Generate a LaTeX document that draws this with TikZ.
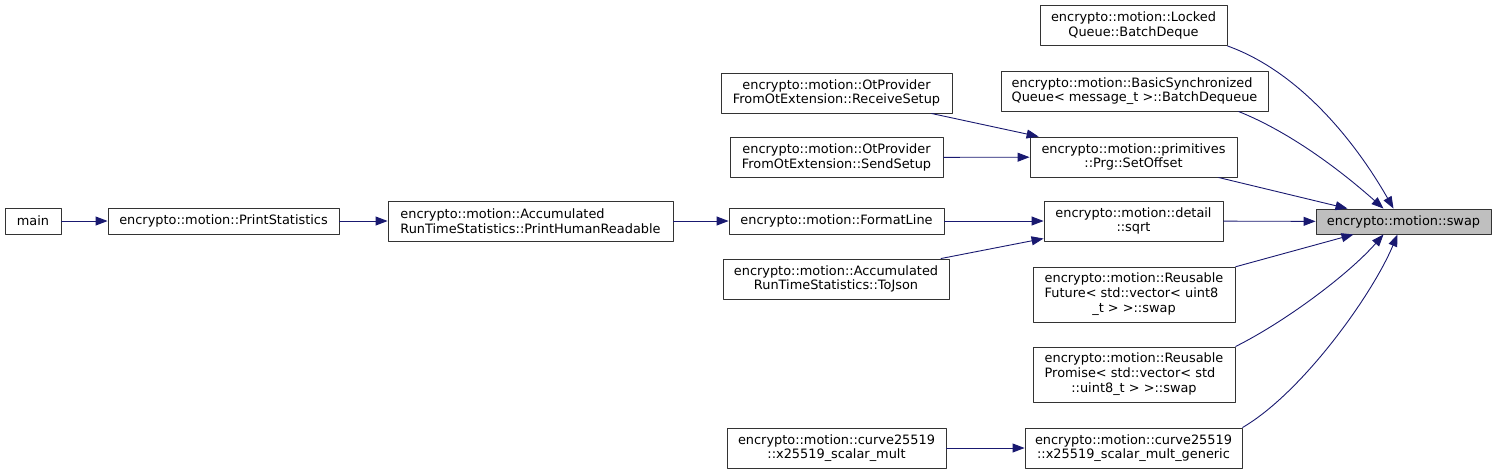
\documentclass[tikz,border=0pt]{standalone}
\usepackage{fontspec}
\setmainfont{DejaVu Sans}
\usetikzlibrary{arrows.meta}
\definecolor{midnightblue}{HTML}{191970}
\definecolor{grey75}{HTML}{BFBFBF}
\begin{document}
\begin{tikzpicture}[x=1pt, y=-1pt, line join=round, >={Triangle[length=12pt,width=9pt]},
		box/.style={draw=black!80, line width=0.9pt, inner sep=0pt, minimum height=40pt, align=center, font=\fontsize{12.9}{14.6}\selectfont},
		edge/.style={->, draw=midnightblue, line width=0.9pt}]
			\useasboundingbox (0,0) rectangle (1496,475);
			% callers, left to right
			\node[box, minimum width=56pt, minimum height=26pt] (main) at (33,221) {main};
			\node[box, minimum width=231pt, minimum height=26pt] (ps) at (223.5,221) {encrypto::motion::PrintStatistics};
			\node[box, minimum width=285pt, align=left] (phr) at (530.5,221) {encrypto::motion::Accumulated\\RunTimeStatistics::PrintHumanReadable};
			\node[box, minimum width=231pt] (rs) at (836.5,93) {encrypto::motion::OtProvider\\FromOtExtension::ReceiveSetup};
			\node[box, minimum width=213pt] (ss) at (836.5,157.5) {encrypto::motion::OtProvider\\FromOtExtension::SendSetup};
			\node[box, minimum width=215pt, minimum height=26pt] (fl) at (836.5,221) {encrypto::motion::FormatLine};
			\node[box, minimum width=226pt] (tj) at (836,279) {encrypto::motion::Accumulated\\RunTimeStatistics::ToJson};
			\node[box, minimum width=219pt] (xm) at (836.5,448) {encrypto::motion::curve25519\\::x25519\_scalar\_mult};
			\node[box, minimum width=187pt] (lq) at (1133.5,25.5) {encrypto::motion::Locked\\Queue::BatchDeque};
			\node[box, minimum width=267pt, align=left] (bs) at (1134.5,91) {encrypto::motion::BasicSynchronized\\Queue< message\_t >::BatchDequeue};
			\node[box, minimum width=207pt] (so) at (1133.5,157) {encrypto::motion::primitives\\::Prg::SetOffset};
			\node[box, minimum width=179pt] (sq) at (1133.5,221) {encrypto::motion::detail\\::sqrt};
			\node[box, minimum width=202pt, minimum height=55pt] (rf) at (1134,294.5) {\begin{tabular}{@{}l@{}}encrypto::motion::Reusable\\Future< std::vector< uint8\\\multicolumn{1}{@{}c@{}}{\_t > >::swap}\end{tabular}};
			\node[box, minimum width=202pt, minimum height=55pt] (rp) at (1134,374.5) {\begin{tabular}{@{}l@{}}encrypto::motion::Reusable\\Promise< std::vector< std\\\multicolumn{1}{@{}c@{}}{::uint8\_t > >::swap}\end{tabular}};
			\node[box, minimum width=217pt] (xg) at (1133.5,448) {encrypto::motion::curve25519\\::x25519\_scalar\_mult\_generic};
			\node[box, fill=grey75, minimum width=175pt, minimum height=25pt] (swap) at (1403.5,221.5) {encrypto::motion::swap};
			% calls
			\draw[edge] (main) -- (ps);
			\draw[edge] (ps) -- (phr);
			\draw[edge] (phr) -- (fl);
			\draw[edge] (fl) -- (sq);
			\draw[edge] (tj) -- (sq);
			\draw[edge] (rs) -- (so);
			\draw[edge] (ss) -- (so);
			\draw[edge] (xm) -- (xg);
			\draw[edge] (so) -- ([xshift=-56pt]swap.north);
			\draw[edge] (sq) -- (swap);
			\draw[edge] (rf) -- ([xshift=-50pt]swap.south);
			\draw[edge] (lq.south east) .. controls +(70,25) and +(-40,-70) .. ([xshift=-10pt]swap.north);
			\draw[edge] ([xshift=-30pt]bs.south east) .. controls +(50,20) and +(-45,-40) .. ([xshift=-20pt]swap.north);
			\draw[edge] (rp.north east) .. controls +(50,-25) and +(-35,40) .. ([xshift=-20pt]swap.south);
			\draw[edge] (xg.north east) .. controls +(60,-35) and +(-25,60) .. ([xshift=-6pt]swap.south);
\end{tikzpicture}
\end{document}
